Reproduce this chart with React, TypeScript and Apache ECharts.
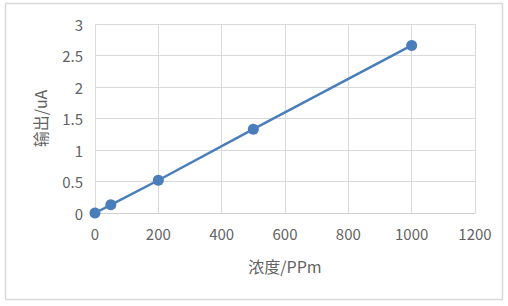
import React, { useEffect, useRef } from "react";
import * as echarts from "echarts";

const concentration = [0, 50, 200, 500, 1000];
const output = [0, 0.13, 0.52, 1.33, 2.66];
const xAxisName = "浓度/PPm";
const yAxisName = "输出/uA";

export default function App() {
  const ref = useRef<HTMLDivElement>(null);
  useEffect(() => {
    const chart = echarts.init(ref.current!, null, { renderer: "svg" });
    const font = "'Noto Sans CJK SC', 'Noto Sans', sans-serif";
    const textColor = "#636363";
    chart.setOption({
      animation: false,
      backgroundColor: "#ffffff",
      graphic: [
        {
          type: "rect",
          shape: { x: 5.5, y: 3.5, width: 497, height: 296 },
          style: { fill: "none", stroke: "#d9d9d9", lineWidth: 1.5 },
          silent: true,
        },
      ],
      grid: { left: 95, top: 24, right: 33, bottom: 93 },
      xAxis: {
        type: "value",
        min: 0,
        max: 1200,
        interval: 200,
        name: xAxisName,
        nameLocation: "middle",
        nameGap: 45,
        nameTextStyle: { color: textColor, fontSize: 16, fontFamily: font },
        axisLine: { show: true, lineStyle: { color: "#d0d0d0", width: 1 } },
        axisTick: { show: false },
        axisLabel: {
          color: textColor,
          fontSize: 15,
          fontFamily: font,
          margin: 13,
          formatter: (v: number) => String(v),
        },
        splitLine: { show: true, lineStyle: { color: "#d9d9d9", width: 1 } },
      },
      yAxis: {
        type: "value",
        min: 0,
        max: 3,
        interval: 0.5,
        name: yAxisName,
        nameLocation: "middle",
        nameGap: 47,
        nameRotate: 90,
        nameTextStyle: { color: textColor, fontSize: 16, fontFamily: font },
        axisLine: { show: false },
        axisTick: { show: false },
        axisLabel: {
          color: textColor,
          fontSize: 15,
          fontFamily: font,
          margin: 12,
          formatter: (v: number) => String(v),
        },
        splitLine: { show: true, lineStyle: { color: "#d9d9d9", width: 1 } },
      },
      series: [
        {
          type: "line",
          data: concentration.map((c, i) => [c, output[i]]),
          symbol: "circle",
          symbolSize: 11,
          itemStyle: { color: "#4a7ebb" },
          lineStyle: { color: "#4a7ebb", width: 2.5 },
        },
      ],
    });
    return () => chart.dispose();
  }, []);
  return (
    <div
      ref={ref}
      style={{ position: "absolute", left: 0, top: 0, width: 508, height: 306 }}
    />
  );
}
